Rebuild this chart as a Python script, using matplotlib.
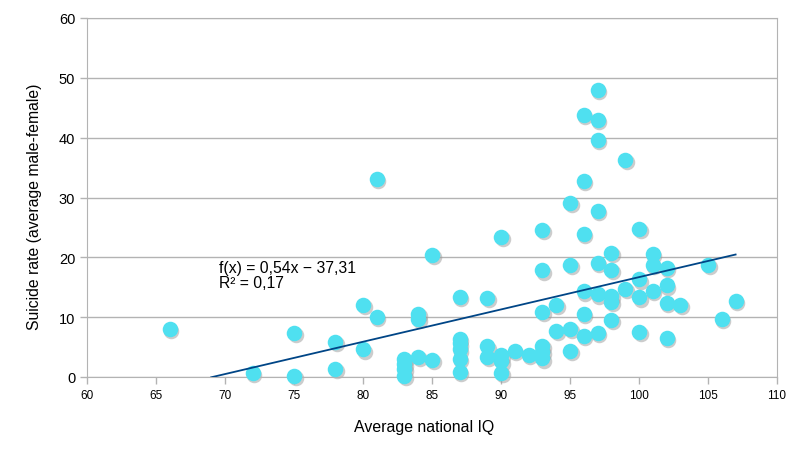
import matplotlib
matplotlib.use("Agg")
import matplotlib.pyplot as plt
import matplotlib.transforms as mtransforms

# national IQ vs suicide rate
iq = [66, 72, 75, 75, 78, 78, 80, 80, 81, 81,
      83, 83, 83, 83, 84, 84, 84, 85, 85,
      87, 87, 87, 87, 87, 87, 89, 89, 89,
      90, 90, 90, 90, 91, 92,
      93, 93, 93, 93, 93, 93, 94, 94,
      95, 95, 95, 95,
      96, 96, 96, 96, 96, 96,
      97, 97, 97, 97, 97, 97, 97,
      98, 98, 98, 98, 98, 99, 99,
      100, 100, 100, 100, 101, 101, 101,
      102, 102, 102, 102, 103, 105, 106, 107]
suicide = [8.0, 0.6, 7.3, 0.2, 5.8, 1.4, 12.1, 4.6, 33.1, 10.1,
           3.0, 2.2, 1.4, 0.2, 10.5, 9.7, 3.3, 20.4, 2.9,
           13.4, 6.4, 5.6, 4.6, 3.0, 0.8, 13.2, 5.1, 3.4,
           23.4, 3.6, 2.6, 0.7, 4.3, 3.7,
           24.6, 17.8, 10.9, 5.2, 4.2, 3.1, 12.0, 7.7,
           29.1, 18.8, 8.0, 4.4,
           43.8, 32.8, 23.9, 14.3, 10.5, 6.9,
           47.9, 43.0, 39.6, 27.7, 19.1, 13.8, 7.4,
           20.7, 17.9, 13.6, 12.6, 9.6, 36.3, 14.7,
           24.7, 16.3, 13.3, 7.5, 20.6, 18.8, 14.4,
           18.2, 15.3, 12.3, 6.5, 12.1, 18.8, 9.7, 12.7]

slope = 0.54
intercept = -37.31
trend_x = [69, 107]
trend_y = [slope * x + intercept for x in trend_x]

plt.rcParams['font.family'] = ['Liberation Sans', 'DejaVu Sans']

fig = plt.figure(figsize=(8.04, 4.52), dpi=100)
ax = fig.add_axes([87 / 804, 1 - 378 / 452, 690 / 804, 359 / 452])

ax.set_xlim(60, 110)
ax.set_ylim(0, 60)
ax.set_xticks(range(60, 111, 5))
ax.set_yticks(range(0, 61, 10))
ax.grid(axis='y', color='#b3b3b3', linewidth=1)
ax.set_axisbelow(True)
for s in ax.spines.values():
    s.set_color('#b3b3b3')
ax.tick_params(colors='#b3b3b3', labelcolor='black', length=5, width=1)
ax.tick_params(axis='y', labelsize=10.5)
ax.tick_params(axis='x', labelsize=8.5)

# markers with a soft shadow like the office chart
shadow = mtransforms.offset_copy(ax.transData, fig=fig, x=1.2, y=-1.5, units='points')
ax.scatter(iq, suicide, s=125, color='#9a9a9a', alpha=0.5, linewidths=0,
           transform=shadow, clip_on=False, zorder=2)
ax.scatter(iq, suicide, s=125, color='#4fe0f0', linewidths=0,
           clip_on=False, zorder=3)

ax.plot(trend_x, trend_y, color='#004586', linewidth=1.3, zorder=4)
ax.text(69.6, 14.5, 'f(x) = 0,54x − 37,31\nR² = 0,17', fontsize=11.3,
        linespacing=1.0, va='bottom', zorder=5)

ax.set_xlabel('Average national IQ', fontsize=11.4, labelpad=13)
ax.set_ylabel('Suicide rate (average male-female)', fontsize=11.3, labelpad=12)
ax.xaxis.label.set_x(0.489)
ax.yaxis.label.set_y(0.476)

fig.savefig('out.png', dpi=100)
